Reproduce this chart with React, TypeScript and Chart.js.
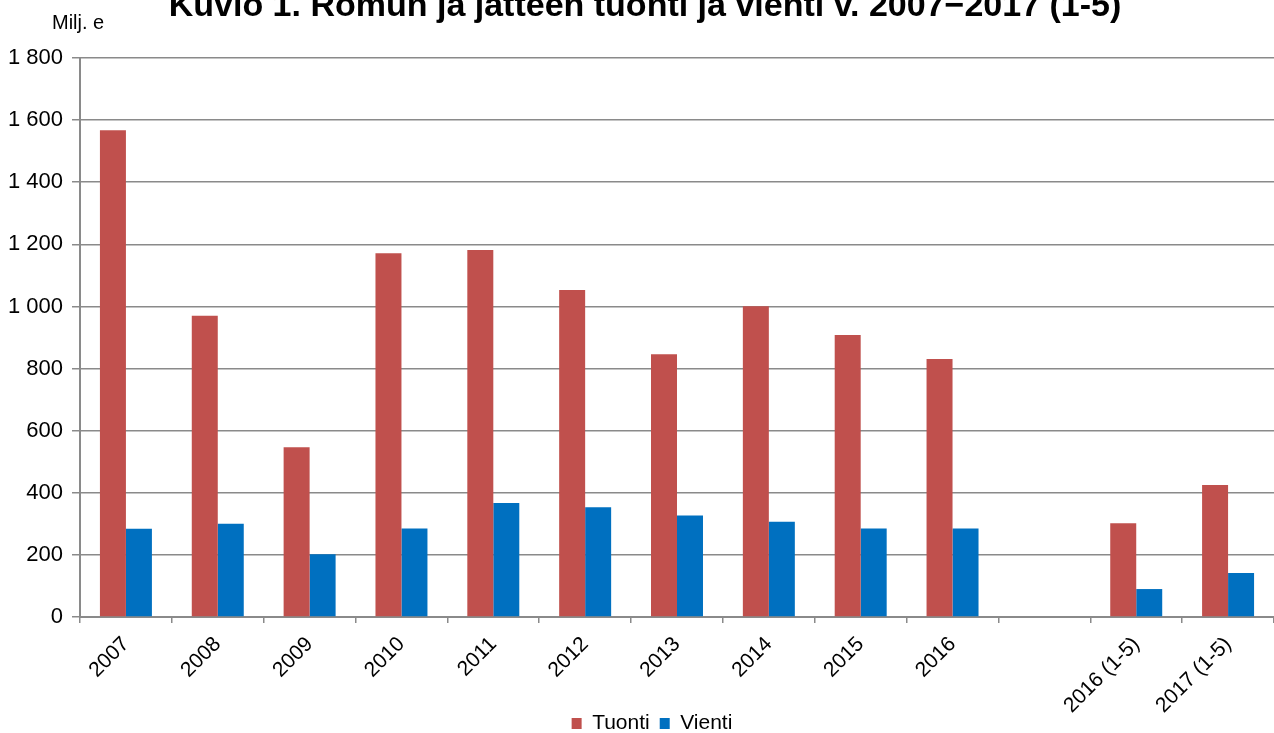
import React, { useEffect, useRef } from "react";
import { Chart, registerables } from "chart.js";

Chart.register(...registerables);

const chartTitle = "Kuvio 1. Romun ja jätteen tuonti ja vienti v. 2007\u22122017 (1-5)";
const unitLabel = "Milj. e";
const categories = ["2007", "2008", "2009", "2010", "2011", "2012", "2013", "2014", "2015", "2016", "", "2016 (1-5)", "2017 (1-5)"];
const tuonti = [1567, 970, 547, 1171, 1182, 1053, 846, 1001, 908, 831, null, 302, 425];
const vienti = [284, 300, 202, 285, 367, 353, 327, 307, 285, 285, null, 90, 142];
const seriesNames = ["Tuonti", "Vienti"];
const yMin = 0;
const yMax = 1800;
const yStep = 200;

const FONT = "'Liberation Sans', Arial, sans-serif";
const GRID = "#8a8a8a";

function fmt(v: number): string {
  return String(v).replace(/\B(?=(\d{3})+(?!\d))/g, " ");
}

export default function App() {
  const ref = useRef<HTMLCanvasElement | null>(null);
  useEffect(() => {
    if (!ref.current) return;
    const textPlugin = {
      id: "textPlugin",
      afterLayout(chart: any) {
        if (chart.legend) {
          chart.legend.left += 15;
          chart.legend.right += 15;
        }
        if (chart.scales && chart.scales.x) {
          chart.scales.x._computeLabelArea = () => undefined;
        }
      },
      afterDraw(chart: any) {
        const ctx = chart.ctx;
        ctx.save();
        ctx.fillStyle = "#000";
        ctx.font = `bold 34px ${FONT}`;
        ctx.textAlign = "center";
        ctx.textBaseline = "alphabetic";
        ctx.fillText(chartTitle, 645, 16);
        ctx.font = `20px ${FONT}`;
        ctx.textAlign = "left";
        ctx.fillText(unitLabel, 52, 29);
        ctx.restore();
      },
    };
    const chart = new Chart(ref.current, {
      type: "bar",
      data: {
        labels: categories,
        datasets: [
          { label: seriesNames[0], data: tuonti, backgroundColor: "#C0504D", borderWidth: 0 },
          { label: seriesNames[1], data: vienti, backgroundColor: "#0070C0", borderWidth: 0 },
        ],
      },
      options: {
        responsive: false,
        animation: false,
        devicePixelRatio: 1,
        layout: { padding: { top: 58, left: 0, right: 0, bottom: 0 } },
        datasets: { bar: { categoryPercentage: 0.566, barPercentage: 1.0 } },
        plugins: {
          title: { display: false },
          tooltip: { enabled: false },
          legend: {
            display: true,
            position: "bottom",
            labels: {
              boxWidth: 10,
              boxHeight: 11,
              padding: 10,
              color: "#000",
              font: { family: FONT, size: 21 },
            },
          },
        },
        scales: {
          x: {
            offset: true,
            grid: {
              display: true,
              offset: true,
              drawOnChartArea: false,
              drawTicks: true,
              tickLength: 6,
              color: GRID,
              lineWidth: 1.5,
            },
            border: { display: true, color: GRID, width: 2 },
            ticks: {
              autoSkip: false,
              maxRotation: 45,
              minRotation: 45,
              padding: 9,
              color: "#000",
              font: { family: FONT, size: 21 },
            },
            afterFit(scale: any) {
              scale.height = 86;
            },
          },
          y: {
            min: yMin,
            max: yMax,
            grid: {
              color: GRID,
              lineWidth: 1.5,
              drawTicks: true,
              tickLength: 8,
            },
            border: { display: true, color: GRID, width: 2 },
            ticks: {
              stepSize: yStep,
              padding: 9,
              color: "#000",
              font: { family: FONT, size: 22 },
              callback: (v: any) => fmt(Number(v)),
            },
            afterFit(scale: any) {
              scale.width = 80;
            },
          },
        },
      },
      plugins: [textPlugin],
    } as any);
    return () => chart.destroy();
  }, []);
  return (
    <div style={{ position: "fixed", left: 0, top: 0, width: 1274, height: 744, background: "#fff" }}>
      <canvas ref={ref} width={1274} height={744} style={{ display: "block" }} />
    </div>
  );
}
